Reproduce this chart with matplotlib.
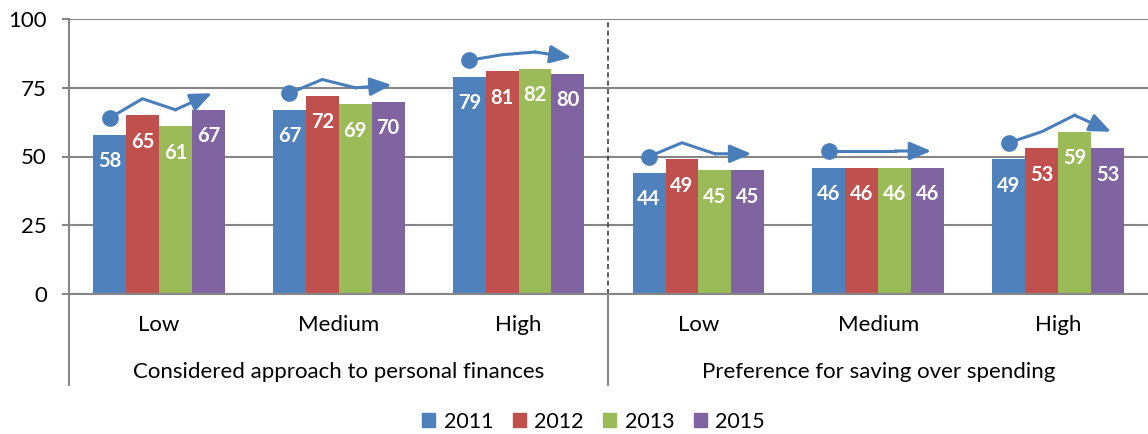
import numpy as np
import matplotlib
matplotlib.use('Agg')
import matplotlib.pyplot as plt
from matplotlib.patches import Patch

plt.rcParams['font.family'] = ['Lato', 'DejaVu Sans']

# Datos por grupo (porcentajes)
grupos = ['Considered approach to personal finances', 'Preference for saving over spending']
niveles = ['Low', 'Medium', 'High', 'Low', 'Medium', 'High']
anios = ['2011', '2012', '2013', '2015']
valores_2011 = [58, 67, 79, 44, 46, 49]
valores_2012 = [65, 72, 81, 49, 46, 53]
valores_2013 = [61, 69, 82, 45, 46, 59]
valores_2015 = [67, 70, 80, 45, 46, 53]
colores = ['#4F81BD', '#C0504D', '#9BBB59', '#8064A2']
color_tendencia = '#4A7EBB'
gris = '#868686'

series = [valores_2011, valores_2012, valores_2013, valores_2015]

fig = plt.figure(figsize=(11.48, 4.34), dpi=100)
ax = fig.add_axes([69 / 1148, 1 - 294 / 434, 1 - 69 / 1148, 275 / 434])

x = np.arange(len(niveles))
ancho = 0.183
desplaz = (np.arange(4) - 1.5) * ancho

for i, (vals, col) in enumerate(zip(series, colores)):
    barras = ax.bar(x + desplaz[i], vals, width=ancho, color=col, zorder=2)
    for b, v in zip(barras, vals):
        ax.annotate(str(v), (b.get_x() + b.get_width() / 2, v), xytext=(0, -19),
                    textcoords='offset points', ha='center', va='center',
                    color='white', fontsize=14.5, fontweight='bold', zorder=3)

# Flechas de tendencia sobre cada grupo
for g in range(len(niveles)):
    xs = x[g] + desplaz
    ys = np.array([s[g] for s in series]) + 6
    ax.plot(xs[:3], ys[:3], color=color_tendencia, lw=2.2, zorder=4,
            solid_joinstyle='miter')
    ax.plot(xs[0], ys[0], 'o', color=color_tendencia, ms=11, zorder=4)
    ax.annotate('', xy=(xs[3] + 0.02, ys[3]), xytext=(xs[2], ys[2]),
                arrowprops=dict(arrowstyle='-|>,head_length=1.3,head_width=0.55',
                                color=color_tendencia, lw=2.2, shrinkA=0, shrinkB=0),
                zorder=4)

ax.set_xlim(-0.5, len(niveles) - 0.5)
ax.set_ylim(0, 100)
ax.set_yticks([0, 25, 50, 75, 100])
ax.tick_params(axis='y', labelsize=16, length=5, color=gris, width=1.5, pad=11)
ax.set_xticks([])
ax.yaxis.grid(True, color=gris, lw=1.5, zorder=0)
ax.set_axisbelow(True)
for lado in ['top', 'right']:
    ax.spines[lado].set_visible(False)
for lado in ['left', 'bottom']:
    ax.spines[lado].set_color(gris)
    ax.spines[lado].set_linewidth(1.5)

# Separador entre bloques
ax.axvline(2.5, color='#404040', lw=1.2, ls=(0, (3, 2)), zorder=1)

trans = ax.get_xaxis_transform()
for xi, nivel in zip(x, niveles):
    ax.text(xi, -0.112, nivel, transform=trans, ha='center', va='center', fontsize=16)
for j, titulo in enumerate(grupos):
    ax.text(1 + 3 * j, -0.283, titulo, transform=trans, ha='center', va='center', fontsize=16)
for xs in [-0.5, 2.5]:
    ax.plot([xs, xs], [0, -0.33], transform=trans, color=gris, lw=1.5, clip_on=False)

handles = [Patch(color=c) for c in colores]
fig.legend(handles, anios, loc='center', bbox_to_anchor=(0.517, 0.028), ncol=4,
           frameon=False, fontsize=15.5, handlelength=0.6, handleheight=0.6,
           handletextpad=0.4, columnspacing=0.9)

fig.savefig('out.png', dpi=100)
